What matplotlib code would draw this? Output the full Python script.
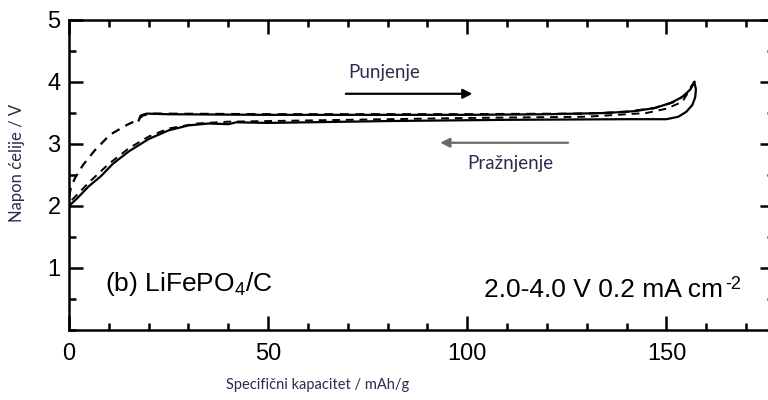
import numpy as np
import matplotlib
matplotlib.use("Agg")
import matplotlib.pyplot as plt
from matplotlib.ticker import MultipleLocator

plt.rcParams["font.family"] = ["Liberation Sans", "DejaVu Sans"]
plt.rcParams["mathtext.fontset"] = "custom"
plt.rcParams["mathtext.rm"] = "Liberation Sans"
plt.rcParams["mathtext.it"] = "Liberation Sans"

# solid cycle: charge (upper) and discharge (lower)
solid_chg_x = [17.5, 18.0, 19.5, 25, 50, 100, 120, 135, 142, 147, 151, 154, 156, 157]
solid_chg_y = [3.38, 3.46, 3.49, 3.48, 3.47, 3.47, 3.48, 3.50, 3.53, 3.58, 3.66, 3.76, 3.88, 4.0]
solid_dis_x = [157, 157.4, 157.2, 156.5, 155, 153, 150, 140, 110, 80, 50, 42, 40, 35, 30, 25, 20, 15, 11, 8, 5, 2, 0]
solid_dis_y = [4.0, 3.88, 3.75, 3.63, 3.52, 3.44, 3.40, 3.40, 3.39, 3.37, 3.34, 3.35, 3.32, 3.33, 3.30, 3.22, 3.08, 2.88, 2.68, 2.48, 2.32, 2.12, 2.0]

# dashed cycle
dash_chg_x = [0, 0.5, 1.5, 3.5, 6.5, 10.3, 14.6, 17.3, 18.5, 21, 50, 100, 130, 140, 147, 152, 155, 157]
dash_chg_y = [2.15, 2.30, 2.45, 2.66, 2.90, 3.15, 3.31, 3.39, 3.46, 3.49, 3.48, 3.48, 3.49, 3.52, 3.58, 3.68, 3.80, 4.0]
dash_dis_x = [157, 154, 150, 145, 130, 100, 60, 40, 32, 25, 20, 15, 10, 5, 2, 0]
dash_dis_y = [4.0, 3.68, 3.57, 3.50, 3.44, 3.42, 3.38, 3.36, 3.33, 3.25, 3.12, 2.93, 2.68, 2.38, 2.18, 2.05]

fig = plt.figure(figsize=(7.68, 4.0), dpi=100)
ax = fig.add_axes([69/768, 70/400, (774-69)/768, 310/400])

ax.plot(solid_chg_x, solid_chg_y, color="black", lw=1.6)
ax.plot(solid_dis_x, solid_dis_y, color="black", lw=1.6)
ax.plot(dash_chg_x, dash_chg_y, color="black", lw=1.6, ls=(0, (4, 3)))
ax.plot(dash_dis_x, dash_dis_y, color="black", lw=1.4, ls=(0, (4, 3)))

ax.set_xlim(0, 177)
ax.set_ylim(0, 5)
ax.xaxis.set_major_locator(MultipleLocator(50))
ax.xaxis.set_minor_locator(MultipleLocator(10))
ax.yaxis.set_major_locator(MultipleLocator(1))
ax.yaxis.set_minor_locator(MultipleLocator(0.5))
ax.set_yticks([1, 2, 3, 4, 5])
ax.tick_params(which="both", direction="in", top=True, right=True, width=1.8)
ax.tick_params(which="major", length=10, labelsize=17, pad=6)
ax.tick_params(which="minor", length=5)
ax.tick_params(axis="x", which="major", pad=9)
for s in ax.spines.values():
    s.set_linewidth(1.8)

lab_color = "#33284a"
fig.text(318/768, 1 - 385/400, "Specifični kapacitet / mAh/g", family="Lato",
         fontsize=10.5, color=lab_color, ha="center", va="center")
fig.text(17/768, 1 - 163/400, "Napon ćelije / V", family="Lato", fontsize=12,
         color=lab_color, ha="center", va="center", rotation=90)

# direction arrows
ax.annotate("", xy=(102, 3.81), xytext=(68.8, 3.81),
            arrowprops=dict(arrowstyle="-|>", color="black", lw=1.6, mutation_scale=14))
ax.annotate("", xy=(92.5, 3.02), xytext=(126, 3.02),
            arrowprops=dict(arrowstyle="-|>", color="#6a6a6a", lw=1.6, mutation_scale=14))
ax.text(70, 4.15, "Punjenje", family="Lato", fontsize=13.5, color=lab_color, va="center")
ax.text(100, 2.69, "Pražnjenje", family="Lato", fontsize=13.5, color=lab_color, va="center")

ax.text(9.0, 0.74, "(b) LiFePO$_4$/C", fontsize=19, va="center")
t = ax.text(164.3, 0.64, "2.0-4.0 V 0.2 mA cm", fontsize=19, va="center", ha="right")
ax.annotate("-2", xy=(1.0, 1.0), xycoords=t, xytext=(1, 2), textcoords="offset points",
            fontsize=13, ha="left", va="top")

fig.savefig("out.png", dpi=100)
